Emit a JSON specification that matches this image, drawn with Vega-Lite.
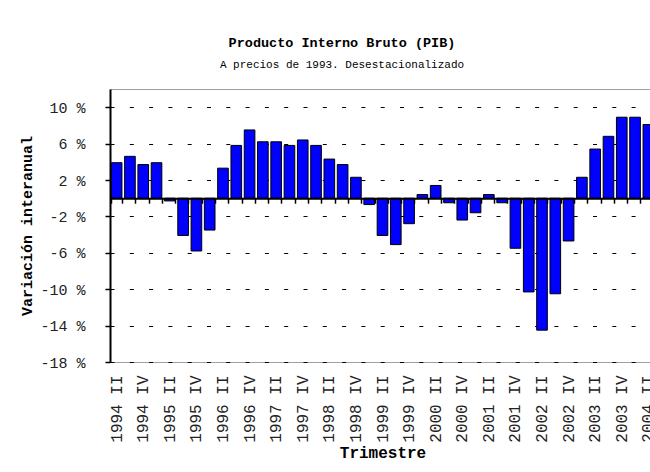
{
  "$schema": "https://vega.github.io/schema/vega-lite/v6.json",
  "autosize": {"type": "none"},
  "padding": {"left": 110, "top": 89, "right": 0, "bottom": 110},
  "width": 540,
  "height": 273,
  "background": "white",
  "config": {
    "font": "Liberation Mono",
    "view": {"stroke": "#a0a0a0", "strokeWidth": 1}
  },
  "title": {
    "text": "Producto Interno Bruto (PIB)",
    "subtitle": "A precios de 1993. Desestacionalizado",
    "anchor": "middle",
    "dx": -38,
    "offset": 19,
    "font": "Liberation Mono",
    "fontSize": 13.5,
    "fontWeight": "bold",
    "color": "#000000",
    "subtitleFont": "Liberation Mono",
    "subtitleFontSize": 11,
    "subtitleColor": "#000000",
    "subtitlePadding": 10
  },
  "data": {
    "values": [
      {"q": "1994 II", "v": 3.9},
      {"q": "1994 III", "v": 4.6},
      {"q": "1994 IV", "v": 3.7},
      {"q": "1995 I", "v": 3.9},
      {"q": "1995 II", "v": -0.3},
      {"q": "1995 III", "v": -4.1},
      {"q": "1995 IV", "v": -5.8},
      {"q": "1996 I", "v": -3.5},
      {"q": "1996 II", "v": 3.3},
      {"q": "1996 III", "v": 5.8},
      {"q": "1996 IV", "v": 7.5},
      {"q": "1997 I", "v": 6.2},
      {"q": "1997 II", "v": 6.2},
      {"q": "1997 III", "v": 5.8},
      {"q": "1997 IV", "v": 6.4},
      {"q": "1998 I", "v": 5.8},
      {"q": "1998 II", "v": 4.3},
      {"q": "1998 III", "v": 3.7},
      {"q": "1998 IV", "v": 2.3},
      {"q": "1999 I", "v": -0.7},
      {"q": "1999 II", "v": -4.1},
      {"q": "1999 III", "v": -5.1},
      {"q": "1999 IV", "v": -2.8},
      {"q": "2000 I", "v": 0.4},
      {"q": "2000 II", "v": 1.4},
      {"q": "2000 III", "v": -0.5},
      {"q": "2000 IV", "v": -2.4},
      {"q": "2001 I", "v": -1.6},
      {"q": "2001 II", "v": 0.4},
      {"q": "2001 III", "v": -0.5},
      {"q": "2001 IV", "v": -5.5},
      {"q": "2002 I", "v": -10.3},
      {"q": "2002 II", "v": -14.5},
      {"q": "2002 III", "v": -10.5},
      {"q": "2002 IV", "v": -4.7},
      {"q": "2003 I", "v": 2.3},
      {"q": "2003 II", "v": 5.4},
      {"q": "2003 III", "v": 6.8},
      {"q": "2003 IV", "v": 8.9},
      {"q": "2004 I", "v": 8.9},
      {"q": "2004 II", "v": 8.1}
    ]
  },
  "resolve": {"axis": {"x": "independent"}},
  "layer": [
    {
      "mark": {"type": "bar", "color": "#0000ff", "stroke": "#000000", "strokeWidth": 1},
      "encoding": {
        "x": {
          "field": "q", "type": "nominal", "sort": null,
          "scale": {"range": [0, 545], "paddingInner": 0.2, "paddingOuter": 0.1},
          "axis": {
            "orient": "bottom",
            "title": "Trimestre",
            "titleFont": "Liberation Mono",
            "titleFontSize": 16,
            "titleFontWeight": "bold",
            "titleColor": "#000000",
            "titlePadding": 2,
            "values": ["1994 II","1994 IV","1995 II","1995 IV","1996 II","1996 IV","1997 II","1997 IV","1998 II","1998 IV","1999 II","1999 IV","2000 II","2000 IV","2001 II","2001 IV","2002 II","2002 IV","2003 II","2003 IV","2004 II"],
            "labelAngle": 270,
            "labelAlign": "right",
            "labelBaseline": "middle",
            "labelFont": "Liberation Mono",
            "labelFontSize": 16,
            "labelColor": "#222222",
            "labelPadding": 13,
            "labelOverlap": false,
            "ticks": false,
            "tickSize": 0,
            "domain": false,
            "grid": false
          }
        },
        "y": {
          "field": "v", "type": "quantitative",
          "scale": {"domain": [-18, 12], "nice": false, "zero": false},
          "axis": {
            "title": "Variación interanual",
            "titleFont": "Liberation Mono",
            "titleFontSize": 15,
            "titleFontWeight": "bold",
            "titleColor": "#000000",
            "titlePadding": 5,
            "values": [-18, -14, -10, -6, -2, 2, 6, 10],
            "tickCount": 30,
            "labelExpr": "datum.value + ' %'",
            "labelFont": "Liberation Mono",
            "labelFontSize": 15,
            "labelColor": "#222222",
            "labelPadding": 20,
            "labelOverlap": false,
            "domainColor": "#000000",
            "domainWidth": 2,
            "tickColor": "#000000",
            "tickSize": 5,
            "tickWidth": 1.5,
            "grid": true,
            "gridColor": "#000000",
            "gridDash": [4, 15.3],
            "gridWidth": 1,
            "gridOpacity": 1
          }
        }
      }
    },
    {
      "mark": {"type": "bar", "opacity": 0},
      "encoding": {
        "x": {
          "field": "q", "type": "nominal", "sort": null,
          "axis": {
            "orient": "bottom",
            "offset": -163.8,
            "title": null,
            "labels": false,
            "grid": false,
            "domain": true,
            "domainColor": "#000000",
            "domainWidth": 2,
            "ticks": true,
            "tickBand": "extent",
            "tickColor": "#000000",
            "tickSize": 5,
            "tickWidth": 1.5,
            "zindex": 1
          }
        },
        "y": {"field": "v", "type": "quantitative", "axis": {"values": [-18, -14, -10, -6, -2, 2, 6, 10], "tickCount": 30}}
      }
    }
  ]
}
